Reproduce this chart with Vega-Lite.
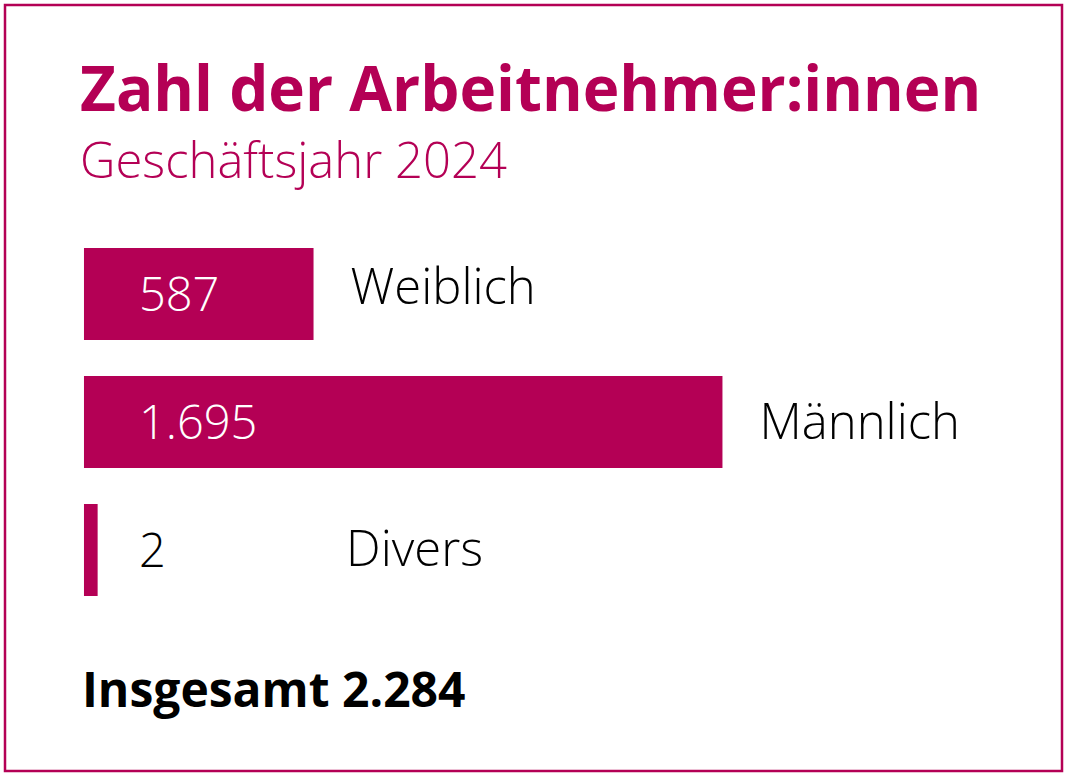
{
  "$schema": "https://vega.github.io/schema/vega-lite/v6.json",
  "width": 1057,
  "height": 766,
  "autosize": {"type": "none"},
  "padding": {"left": 5, "top": 5, "right": 14, "bottom": 7},
  "background": "white",
  "config": {
    "view": {"stroke": "#B40055", "strokeWidth": 2.5},
    "locale": {"number": {"decimal": ",", "thousands": ".", "grouping": [3], "currency": ["", " €"]}}
  },
  "title": {
    "text": "Zahl der Arbeitnehmer:innen",
    "subtitle": "Geschäftsjahr 2024",
    "anchor": "start",
    "frame": "group",
    "orient": "top",
    "offset": -184,
    "dx": 75,
    "font": "Open Sans",
    "fontSize": 62,
    "fontWeight": "bold",
    "color": "#B40055",
    "subtitleFont": "Open Sans",
    "subtitleFontSize": 49,
    "subtitleFontWeight": 300,
    "subtitleColor": "#B40055",
    "subtitlePadding": 15
  },
  "data": {"values": [
    {"gender": "Weiblich", "value": 587},
    {"gender": "Männlich", "value": 1695},
    {"gender": "Divers", "value": 2}
  ]},
  "layer": [
    {
      "mark": {"type": "bar", "color": "#B40055", "height": {"band": 0.73}},
      "encoding": {
        "y": {"field": "gender", "type": "nominal", "axis": null,
              "scale": {"domain": ["Weiblich", "Männlich", "Divers", "Insgesamt"], "paddingInner": 0.0156, "paddingOuter": 1, "align": 0.883}},
        "x": {"field": "value", "type": "quantitative", "axis": null, "scale": {"domain": [-249, 2615], "zero": false, "nice": false}},
        "x2": {"datum": -35}
      }
    },
    {
      "mark": {"type": "text", "font": "Open Sans", "fontWeight": 300, "fontSize": 47, "align": "left", "baseline": "alphabetic", "dx": 42, "dy": 17},
      "encoding": {
        "y": {"field": "gender", "type": "nominal"},
        "x": {"datum": 0},
        "text": {"field": "value", "type": "quantitative", "format": ",d"},
        "color": {"condition": {"test": "datum.gender === 'Divers'", "value": "#000000"}, "value": "#ffffff"}
      }
    },
    {
      "transform": [{"filter": "datum.gender === 'Weiblich'"}],
      "mark": {"type": "text", "font": "Open Sans", "fontWeight": 300, "fontSize": 49, "align": "left", "baseline": "alphabetic", "dx": 37, "dy": 10, "color": "#000000"},
      "encoding": {
        "y": {"field": "gender", "type": "nominal"},
        "x": {"field": "value", "type": "quantitative"},
        "text": {"field": "gender", "type": "nominal"}
      }
    },
    {
      "transform": [{"filter": "datum.gender === 'Männlich'"}],
      "mark": {"type": "text", "font": "Open Sans", "fontWeight": 300, "fontSize": 49, "align": "left", "baseline": "alphabetic", "dx": 37, "dy": 17, "color": "#000000"},
      "encoding": {
        "y": {"field": "gender", "type": "nominal"},
        "x": {"field": "value", "type": "quantitative"},
        "text": {"field": "gender", "type": "nominal"}
      }
    },
    {
      "transform": [{"filter": "datum.gender === 'Divers'"}],
      "mark": {"type": "text", "font": "Open Sans", "fontWeight": 300, "fontSize": 49, "align": "left", "baseline": "alphabetic", "dx": 37, "dy": 16, "color": "#000000"},
      "encoding": {
        "y": {"field": "gender", "type": "nominal"},
        "x": {"datum": 575},
        "text": {"field": "gender", "type": "nominal"}
      }
    },
    {
      "transform": [
        {"aggregate": [{"op": "sum", "field": "value", "as": "total"}]},
        {"calculate": "'Insgesamt ' + format(datum.total, ',d')", "as": "label"}
      ],
      "mark": {"type": "text", "font": "Open Sans", "fontWeight": "bold", "fontSize": 48, "align": "left", "baseline": "alphabetic", "dx": -2, "dy": 29, "color": "#000000"},
      "encoding": {
        "y": {"datum": "Insgesamt", "type": "nominal"},
        "x": {"datum": -35},
        "text": {"field": "label", "type": "nominal"}
      }
    }
  ]
}
